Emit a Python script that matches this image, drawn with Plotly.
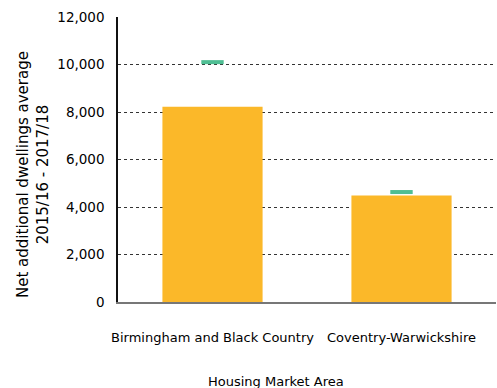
import plotly.graph_objects as go

# Housing market areas and dwelling figures
areas = ["Birmingham and Black Country", "Coventry-Warwickshire"]
net_additional = [8220, 4480]
target_marker = [10100, 4630]
y_ticks = [0, 2000, 4000, 6000, 8000, 10000, 12000]

BAR_COLOR = "#FBB829"
MARK_COLOR = "#4FBE93"
FONT = "DejaVu Sans"
TEXT = "#000000"

W, H = 497, 388
ML, MR, MT, MB = 118, 1, 17, 86
PW, PH = W - ML - MR, H - MT - MB


def px_x(x):
    return (x - ML) / PW


def px_y(y):
    return (H - MB - y) / PH


fig = go.Figure()
fig.add_trace(go.Bar(
    x=areas, y=net_additional, width=0.53,
    marker=dict(color=BAR_COLOR, line=dict(width=0)),
    showlegend=False, hoverinfo="x+y",
))
fig.add_trace(go.Scatter(
    x=areas, y=target_marker, mode="markers",
    marker=dict(symbol="line-ew", size=16, color=MARK_COLOR,
                line=dict(width=4, color=MARK_COLOR)),
    showlegend=False, hoverinfo="x+y",
))

fig.update_layout(
    width=W, height=H,
    margin=dict(l=ML, r=MR, t=MT, b=MB),
    plot_bgcolor="white", paper_bgcolor="white",
    font=dict(family=FONT, size=12, color=TEXT),
    xaxis=dict(
        showline=True, linecolor="#777777", linewidth=2,
        ticks="", tickfont=dict(size=13, family=FONT, color=TEXT),
        ticklabelstandoff=22,
        showgrid=False,
    ),
    yaxis=dict(
        range=[0, 12000], tickvals=y_ticks,
        tickformat=",d",
        showline=True, linecolor="#111111", linewidth=1.5,
        showgrid=True, gridcolor="#333333", griddash="3px,3px", gridwidth=1,
        zeroline=False, ticks="", ticklen=0,
        ticklabelstandoff=9,
        tickfont=dict(size=13.5, family=FONT, color=TEXT),
    ),
    annotations=[
        dict(
            text="Housing Market Area",
            x=px_x(276), y=px_y(381),
            xref="paper", yref="paper", xanchor="center", yanchor="middle",
            showarrow=False, font=dict(size=13, family=FONT, color=TEXT),
        ),
        dict(
            text="Net additional dwellings average<br>2015/16 - 2017/18",
            x=px_x(33), y=px_y(175), textangle=-90,
            xref="paper", yref="paper", xanchor="center", yanchor="middle",
            showarrow=False, font=dict(size=15, family=FONT, color=TEXT),
        ),
    ],
)

fig.write_html("out.html")
